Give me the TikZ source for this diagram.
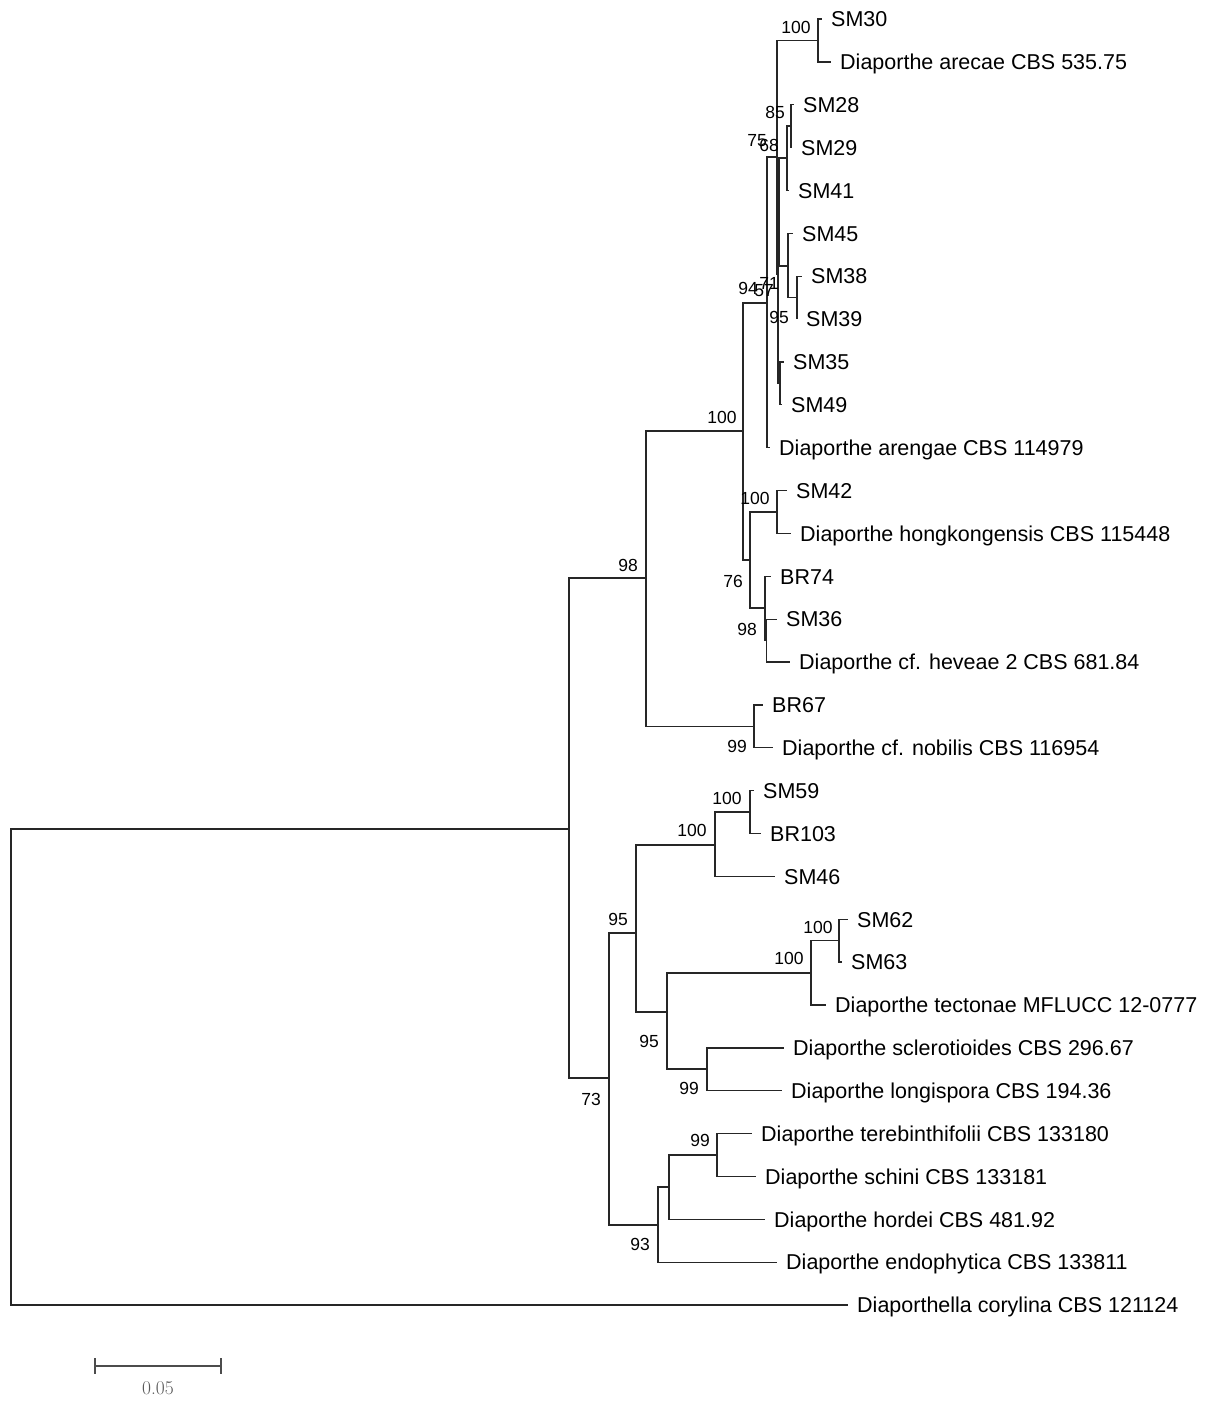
\documentclass[tikz,border=0pt]{standalone}
\usepackage{fontspec}
\newfontfamily\lsans{Liberation Sans}
\begin{document}
\begin{tikzpicture}[x=1pt,y=-1pt,
  br/.style={line width=1.3pt, draw=black!85},
  leaf/.style={anchor=base west, inner sep=0pt, xshift=9pt, yshift=-7.7pt, font=\fontsize{21.5}{26}\selectfont\lsans},
  bs/.style={inner sep=0pt, font=\fontsize{17.5}{20}\selectfont\lsans}]
\useasboundingbox (0,0) rectangle (1209,1406);
% internal nodes
\coordinate (R) at (11,1067.2);
\coordinate (I) at (569,829);
\coordinate (U) at (646,578);
\coordinate (L) at (609,1078);
\coordinate (N99) at (754,726.3);
\coordinate (NA) at (743,431);
\coordinate (A) at (767,303);
\coordinate (N76) at (750,560);
\coordinate (N100b) at (777,512);
\coordinate (N98b) at (765,608);
\coordinate (S) at (766.5,640.6);
\coordinate (B) at (777,157);
\coordinate (P) at (818,40.5);
\coordinate (E) at (778,274);
\coordinate (G) at (779,212);
\coordinate (H) at (787,158);
\coordinate (M85) at (791,126);
\coordinate (K) at (788,266);
\coordinate (J) at (797,297.7);
\coordinate (Q) at (780,383.4);
\coordinate (V) at (636,933);
\coordinate (X) at (715,845);
\coordinate (Z) at (750,812);
\coordinate (Y) at (667,1012);
\coordinate (N811) at (811,973);
\coordinate (N839) at (839,940.7);
\coordinate (N707) at (707,1069);
\coordinate (W) at (658,1225);
\coordinate (W2) at (669,1187);
\coordinate (W3) at (717,1155);
% tips
\coordinate (tSM30) at (822,19.0);
\coordinate (tARE) at (831,61.9);
\coordinate (tSM28) at (794,104.7);
\coordinate (tSM29) at (792,147.6);
\coordinate (tSM41) at (789,190.5);
\coordinate (tSM45) at (793,233.4);
\coordinate (tSM38) at (802,276.2);
\coordinate (tSM39) at (797,319.1);
\coordinate (tSM35) at (784,362.0);
\coordinate (tSM49) at (782,404.8);
\coordinate (tARN) at (770,447.7);
\coordinate (tSM42) at (787,490.6);
\coordinate (tHON) at (791,533.4);
\coordinate (tBR74) at (771,576.3);
\coordinate (tSM36) at (777,619.2);
\coordinate (tHEV) at (790,662.1);
\coordinate (tBR67) at (763,704.9);
\coordinate (tNOB) at (773,747.8);
\coordinate (tSM59) at (754,790.7);
\coordinate (tBR103) at (761,833.5);
\coordinate (tSM46) at (775,876.4);
\coordinate (tSM62) at (848,919.3);
\coordinate (tSM63) at (842,962.1);
\coordinate (tTEC) at (826,1005.0);
\coordinate (tSCL) at (784,1047.9);
\coordinate (tLON) at (782,1090.7);
\coordinate (tTER) at (752,1133.6);
\coordinate (tSCH) at (756,1176.5);
\coordinate (tHOR) at (765,1219.3);
\coordinate (tEND) at (777,1262.2);
\coordinate (tCOR) at (848,1305.1);
% leaf labels
\node[leaf] (lSM30) at (tSM30) {SM30};
\node[leaf] (lARE) at (tARE) {Diaporthe arecae CBS 535.75};
\node[leaf] (lSM28) at (tSM28) {SM28};
\node[leaf] (lSM29) at (tSM29) {SM29};
\node[leaf] (lSM41) at (tSM41) {SM41};
\node[leaf] (lSM45) at (tSM45) {SM45};
\node[leaf] (lSM38) at (tSM38) {SM38};
\node[leaf] (lSM39) at (tSM39) {SM39};
\node[leaf] (lSM35) at (tSM35) {SM35};
\node[leaf] (lSM49) at (tSM49) {SM49};
\node[leaf] (lARN) at (tARN) {Diaporthe arengae CBS 114979};
\node[leaf] (lSM42) at (tSM42) {SM42};
\node[leaf] (lHON) at (tHON) {Diaporthe hongkongensis CBS 115448};
\node[leaf] (lBR74) at (tBR74) {BR74};
\node[leaf] (lSM36) at (tSM36) {SM36};
\node[leaf] (lHEV) at (tHEV) {Diaporthe cf. heveae 2 CBS 681.84};
\node[leaf] (lBR67) at (tBR67) {BR67};
\node[leaf] (lNOB) at (tNOB) {Diaporthe cf. nobilis CBS 116954};
\node[leaf] (lSM59) at (tSM59) {SM59};
\node[leaf] (lBR103) at (tBR103) {BR103};
\node[leaf] (lSM46) at (tSM46) {SM46};
\node[leaf] (lSM62) at (tSM62) {SM62};
\node[leaf] (lSM63) at (tSM63) {SM63};
\node[leaf] (lTEC) at (tTEC) {Diaporthe tectonae MFLUCC 12-0777};
\node[leaf] (lSCL) at (tSCL) {Diaporthe sclerotioides CBS 296.67};
\node[leaf] (lLON) at (tLON) {Diaporthe longispora CBS 194.36};
\node[leaf] (lTER) at (tTER) {Diaporthe terebinthifolii CBS 133180};
\node[leaf] (lSCH) at (tSCH) {Diaporthe schini CBS 133181};
\node[leaf] (lHOR) at (tHOR) {Diaporthe hordei CBS 481.92};
\node[leaf] (lEND) at (tEND) {Diaporthe endophytica CBS 133811};
\node[leaf] (lCOR) at (tCOR) {Diaporthella corylina CBS 121124};
% branches
\draw[br] (R) |- (I);
\draw[br] (R) |- (tCOR);
\draw[br] (I) |- (U);
\draw[br] (I) |- (L);
\draw[br] (U) |- (NA);
\draw[br] (U) |- (N99);
\draw[br] (N99) |- (tBR67);
\draw[br] (N99) |- (tNOB);
\draw[br] (NA) |- (A);
\draw[br] (NA) |- (N76);
\draw[br] (N76) |- (N100b);
\draw[br] (N76) |- (N98b);
\draw[br] (N100b) |- (tSM42);
\draw[br] (N100b) |- (tHON);
\draw[br] (N98b) |- (tBR74);
\draw[br] (N98b) |- (S);
\draw[br] (S) |- (tSM36);
\draw[br] (S) |- (tHEV);
\draw[br] (A) |- (B);
\draw[br] (A) |- (tARN);
\draw[br] (B) |- (P);
\draw[br] (B) |- (E);
\draw[br] (P) |- (tSM30);
\draw[br] (P) |- (tARE);
\draw[br] (E) |- (G);
\draw[br] (E) |- (Q);
\draw[br] (G) |- (H);
\draw[br] (G) |- (K);
\draw[br] (H) |- (M85);
\draw[br] (H) |- (tSM41);
\draw[br] (M85) |- (tSM28);
\draw[br] (M85) |- (tSM29);
\draw[br] (K) |- (tSM45);
\draw[br] (K) |- (J);
\draw[br] (J) |- (tSM38);
\draw[br] (J) |- (tSM39);
\draw[br] (Q) |- (tSM35);
\draw[br] (Q) |- (tSM49);
\draw[br] (L) |- (V);
\draw[br] (L) |- (W);
\draw[br] (V) |- (X);
\draw[br] (V) |- (Y);
\draw[br] (X) |- (Z);
\draw[br] (X) |- (tSM46);
\draw[br] (Z) |- (tSM59);
\draw[br] (Z) |- (tBR103);
\draw[br] (Y) |- (N811);
\draw[br] (Y) |- (N707);
\draw[br] (N811) |- (N839);
\draw[br] (N811) |- (tTEC);
\draw[br] (N839) |- (tSM62);
\draw[br] (N839) |- (tSM63);
\draw[br] (N707) |- (tSCL);
\draw[br] (N707) |- (tLON);
\draw[br] (W) |- (W2);
\draw[br] (W) |- (tEND);
\draw[br] (W2) |- (W3);
\draw[br] (W2) |- (tHOR);
\draw[br] (W3) |- (tTER);
\draw[br] (W3) |- (tSCH);
% bootstrap values
\node[bs] (b1) at (796,27) {100};
\node[bs] (b2) at (775,112) {85};
\node[bs] (b3) at (757,141) {75};
\node[bs] (b4) at (769,145) {68};
\node[bs] (b5) at (748,288) {94};
\node[bs] (b6) at (769,283) {71};
\node[bs] (b7) at (764,291) {57};
\node[bs] (b8) at (779,317) {95};
\node[bs] (b9) at (722,417) {100};
\node[bs] (b10) at (755,498) {100};
\node[bs] (b11) at (733,581) {76};
\node[bs] (b12) at (747,629) {98};
\node[bs] (b13) at (628,565) {98};
\node[bs] (b14) at (737,746) {99};
\node[bs] (b15) at (727,798) {100};
\node[bs] (b16) at (692,830) {100};
\node[bs] (b17) at (618,919) {95};
\node[bs] (b18) at (818,927) {100};
\node[bs] (b19) at (789,958) {100};
\node[bs] (b20) at (649,1041) {95};
\node[bs] (b21) at (689,1088) {99};
\node[bs] (b22) at (591,1099) {73};
\node[bs] (b23) at (700,1140) {99};
\node[bs] (b24) at (640,1244) {93};
% scale bar
\coordinate (sbL) at (95,1366);
\coordinate (sbR) at (221,1366);
\draw[line width=1.3pt, draw=black!70] (sbL) -- (sbR);
\draw[line width=1.3pt, draw=black!70] ([yshift=8pt]sbL) -- ([yshift=-8pt]sbL);
\draw[line width=1.3pt, draw=black!70] ([yshift=8pt]sbR) -- ([yshift=-8pt]sbR);
\node[inner sep=0pt, text=black!65, font=\fontsize{19.5}{22}\selectfont] (sbT) at (158,1388) {0.05};
\end{tikzpicture}
\end{document}
